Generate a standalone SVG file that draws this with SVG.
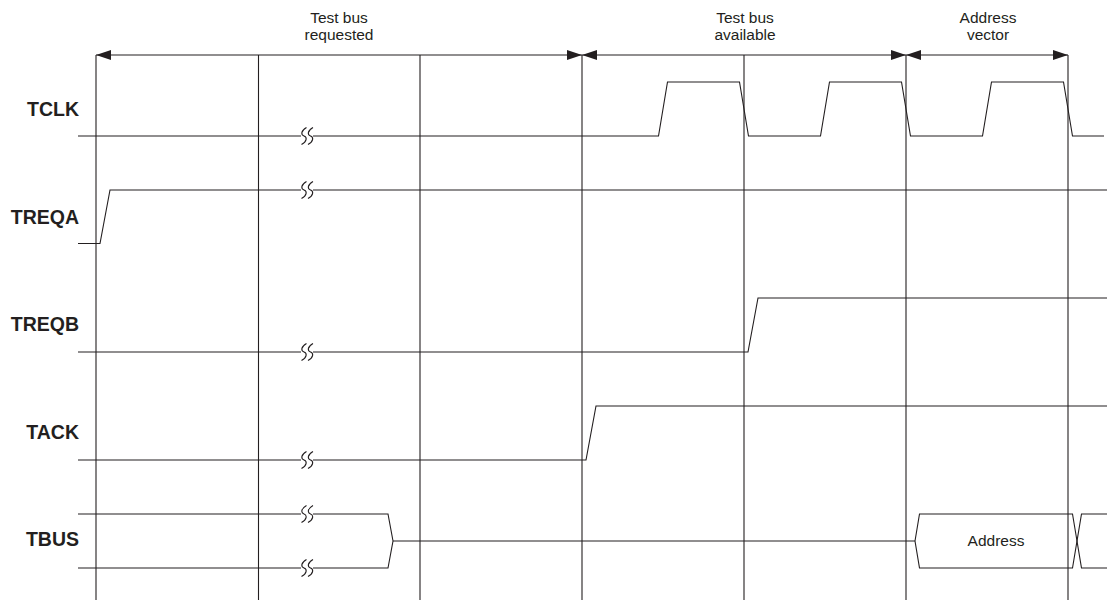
<svg xmlns="http://www.w3.org/2000/svg" width="1107" height="600" viewBox="0 0 1107 600">
<style>
.ln{fill:none;stroke:#231f20;stroke-width:1.1;stroke-linejoin:miter}
.brk{fill:none;stroke:#231f20;stroke-width:1.1}
.gap{fill:#fff;stroke:none}
.sig{font-family:"Liberation Sans",Arial,sans-serif;font-weight:bold;font-size:19.5px;fill:#231f20;text-anchor:end}
.lbl{font-family:"Liberation Sans",Arial,sans-serif;font-size:15.5px;fill:#231f20;text-anchor:middle}
</style>
<defs>
<marker id="ah" viewBox="0 0 15 10" refX="15" refY="5" markerUnits="userSpaceOnUse" markerWidth="15" markerHeight="10" orient="auto-start-reverse">
<path d="M0,0 L15,5 L0,10 z" fill="#231f20"/>
</marker>
<g id="brk">
<rect class="gap" x="-3" y="-3" width="12" height="6"/>
<path class="brk" d="M2.5,-8.5 C-3.5,-5 -3,-1 0,0 C3,1 3.5,5 -2.5,8.5"/>
<path class="brk" d="M9,-8.5 C3,-5 3.5,-1 6.5,0 C9.5,1 10,5 4,8.5"/>
</g>
</defs>
<g id="connectors">
<g id="grid" class="ln">
<line x1="96" y1="55" x2="96" y2="600"/>
<line x1="258.5" y1="55" x2="258.5" y2="600"/>
<line x1="420" y1="55" x2="420" y2="600"/>
<line x1="582" y1="55" x2="582" y2="600"/>
<line x1="744" y1="55" x2="744" y2="600"/>
<line x1="906" y1="55" x2="906" y2="600"/>
<line x1="1068" y1="55" x2="1068" y2="600"/>
</g>
<line class="ln" x1="96" y1="55" x2="582" y2="55" marker-start="url(#ah)" marker-end="url(#ah)"/>
<line class="ln" x1="582" y1="55" x2="906" y2="55" marker-start="url(#ah)" marker-end="url(#ah)"/>
<line class="ln" x1="906" y1="55" x2="1068" y2="55" marker-start="url(#ah)" marker-end="url(#ah)"/>
</g>
<g id="phase-labels">
<text class="lbl" x="339" y="23">Test bus</text>
<text class="lbl" x="339" y="40">requested</text>
<text class="lbl" x="745" y="23">Test bus</text>
<text class="lbl" x="745" y="40">available</text>
<text class="lbl" x="988" y="23">Address</text>
<text class="lbl" x="988" y="40">vector</text>
</g>
<g id="TCLK">
<text class="sig" x="79" y="116">TCLK</text>
<path class="ln" d="M78,136 H658.5 L667.5,82 H739.5 L748.5,136 H820.5 L829.5,82 H901.5 L910.5,136 H982.5 L991.5,82 H1063.5 L1072.5,136 H1104"/>
<use href="#brk" x="304" y="136"/>
</g>
<g id="TREQA">
<text class="sig" x="79" y="223.5">TREQA</text>
<path class="ln" d="M78,243.5 H100 L110,190 H1107"/>
<use href="#brk" x="304" y="190"/>
</g>
<g id="TREQB">
<text class="sig" x="79" y="331">TREQB</text>
<path class="ln" d="M78,352 H748 L758,298 H1107"/>
<use href="#brk" x="304" y="352"/>
</g>
<g id="TACK">
<text class="sig" x="79" y="438.5">TACK</text>
<path class="ln" d="M78,460 H586 L596,406 H1107"/>
<use href="#brk" x="304" y="460"/>
</g>
<g id="TBUS">
<text class="sig" x="79" y="546">TBUS</text>
<path class="ln" d="M78,514 H388 L393,541 L388,568 H78"/>
<path class="ln" d="M393,541 H915"/>
<use href="#brk" x="304" y="514"/>
<use href="#brk" x="304" y="568"/>
</g>
<g id="Address">
<path class="ln" d="M915,541 L919.5,514 H1072.5 L1077,541 L1072.5,568 H919.5 Z"/>
<text class="lbl" x="996" y="546">Address</text>
<path class="ln" d="M1107,514 H1081.5 L1077,541 L1081.5,568 H1107"/>
</g>
</svg>
